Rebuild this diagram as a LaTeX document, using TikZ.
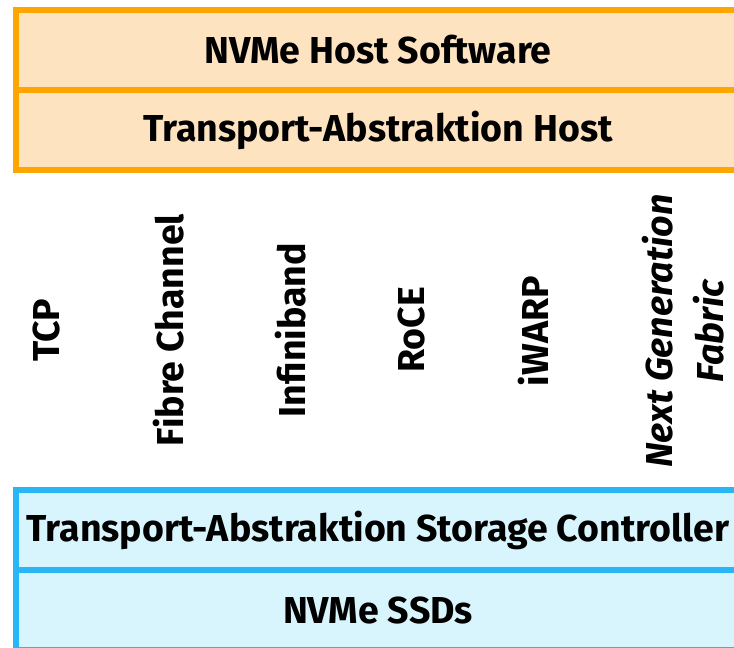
\documentclass[tikz,border=0pt]{standalone}
\usepackage{fontspec}
\setmainfont{Fira Sans}
\usepackage{tikz}
\usetikzlibrary{positioning}

\definecolor{hostfill}{HTML}{FDE3C0}
\definecolor{hostline}{HTML}{FFA500}
\definecolor{ctrlfill}{HTML}{D8F5FD}
\definecolor{ctrlline}{HTML}{29B6F6}

\begin{document}
\begin{tikzpicture}[x=1pt, y=-1pt,
        layer/.style={draw, line width=6pt, outer sep=0pt, inner sep=0pt, minimum width=724pt, minimum height=80pt, font=\fontsize{37.5}{44}\selectfont\bfseries},
        hostlayer/.style={layer, draw=hostline, fill=hostfill},
        ctrllayer/.style={layer, draw=ctrlline, fill=ctrlfill},
        fabric/.style={rotate=90, align=center, inner sep=0pt, font=\fontsize{37.5}{51}\selectfont\bfseries}]
        \useasboundingbox (0,0) rectangle (734,648);

        % Host
        \node[hostlayer] (hostsw) at (378,50) {NVMe Host Software};
        \node[hostlayer, below=0pt of hostsw] (hosttr) {Transport-Abstraktion Host};

        % Fabrics
        \node[fabric] (tcp) at (47,330) {TCP};
        \node[fabric] (fc) at (169,330) {Fibre Channel};
        \node[fabric] (ib) at (291,330) {Infiniband};
        \node[fabric] (roce) at (412,330) {RoCE};
        \node[fabric] (iwarp) at (533,331) {iWARP};
        \node[fabric, font=\fontsize{37.5}{51}\selectfont\bfseries\itshape] (ngf) at (683,331) {Next Generation\\Fabric};

        % Storage controller
        \node[ctrllayer] (ctrltr) at (378,530) {Transport-Abstraktion Storage Controller};
        \node[ctrllayer, below=0pt of ctrltr] (ssd) {NVMe SSDs};
    \end{tikzpicture}
\end{document}
